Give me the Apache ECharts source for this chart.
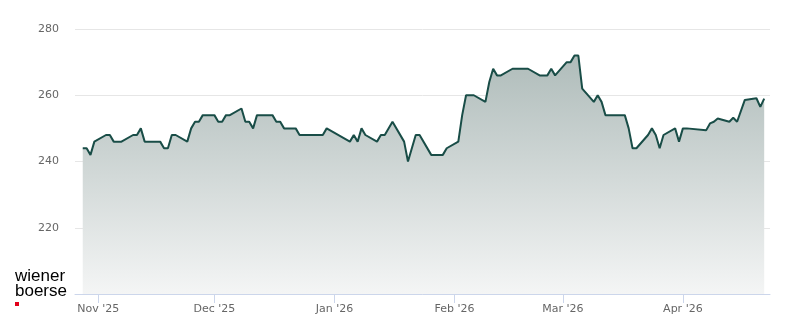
<!DOCTYPE html>
<html>
<head>
<meta charset="utf-8">
<script src="https://cdn.jsdelivr.net/npm/echarts@6/dist/echarts.min.js"></script>
<style>
html,body{margin:0;padding:0;background:#fff;}
#chart{width:800px;height:324px;}
</style>
</head>
<body>
<div id="chart"></div>
<script>
// Trading dates and closing prices
const dates = [
  '2025-10-28','2025-10-29','2025-10-30','2025-10-31',
  '2025-11-03','2025-11-04','2025-11-05','2025-11-06','2025-11-07',
  '2025-11-10','2025-11-11','2025-11-12','2025-11-13','2025-11-14',
  '2025-11-17','2025-11-18','2025-11-19','2025-11-20','2025-11-21',
  '2025-11-24','2025-11-25','2025-11-26','2025-11-27','2025-11-28',
  '2025-12-01','2025-12-02','2025-12-03','2025-12-04','2025-12-05',
  '2025-12-08','2025-12-09','2025-12-10','2025-12-11','2025-12-12',
  '2025-12-15','2025-12-16','2025-12-17','2025-12-18','2025-12-19',
  '2025-12-22','2025-12-23','2025-12-29','2025-12-30',
  '2026-01-05','2026-01-06','2026-01-07','2026-01-08','2026-01-09',
  '2026-01-12','2026-01-13','2026-01-14','2026-01-16',
  '2026-01-19','2026-01-20','2026-01-22','2026-01-23',
  '2026-01-26','2026-01-27','2026-01-28','2026-01-29','2026-01-30',
  '2026-02-02','2026-02-03','2026-02-04','2026-02-05','2026-02-06',
  '2026-02-09','2026-02-10','2026-02-11','2026-02-12','2026-02-13',
  '2026-02-16','2026-02-17','2026-02-18','2026-02-19','2026-02-20',
  '2026-02-23','2026-02-24','2026-02-25','2026-02-26','2026-02-27',
  '2026-03-02','2026-03-03','2026-03-04','2026-03-05','2026-03-06',
  '2026-03-09','2026-03-10','2026-03-11','2026-03-12','2026-03-13',
  '2026-03-16','2026-03-17','2026-03-18','2026-03-19','2026-03-20',
  '2026-03-23','2026-03-24','2026-03-25','2026-03-26','2026-03-27',
  '2026-03-30','2026-03-31','2026-04-01','2026-04-02',
  '2026-04-07','2026-04-08','2026-04-09','2026-04-10',
  '2026-04-13','2026-04-14','2026-04-15','2026-04-17',
  '2026-04-20','2026-04-21','2026-04-22'
];
const prices = [
  244,244,242,246,
  248,248,246,246,246,
  248,248,250,246,246,
  246,244,244,248,248,
  246,250,252,252,254,
  254,252,252,254,254,
  256,252,252,250,254,
  254,254,252,252,250,
  250,248,248,250,
  246,248,246,250,248,
  246,248,248,252,
  246,240,248,248,
  242,242,242,242,244,
  246,254,260,260,260,
  258,264,268,266,266,
  268,268,268,268,268,
  266,266,266,268,266,
  270,270,272,272,262,
  258,260,258,254,254,
  254,254,250,244,244,
  248,250,248,244,248,
  250,246,250,250,
  249.4,251.5,252,253,
  252,253.2,252,258.6,
  259.1,256.5,259
];
const yTicks = [200, 220, 240, 260, 280];
const monthTicks = ['2025-11-01','2025-12-01','2026-01-01','2026-02-01','2026-03-01','2026-04-01'];
const monthNames = ['Jan','Feb','Mar','Apr','May','Jun','Jul','Aug','Sep','Oct','Nov','Dec'];
const axisStart = '2025-10-26';
const axisEnd = '2026-04-23 12:00';

function ts(s){
  const p = s.split(/[- :]/).map(Number);
  return Date.UTC(p[0], p[1]-1, p[2], p[3]||0, p[4]||0);
}
const seriesData = dates.map((d,i)=>[ts(d), prices[i]]);
const tickVals = monthTicks.map(ts);

const chart = echarts.init(document.getElementById('chart'), null, {renderer:'canvas'});
chart.setOption({
  animation:false,
  backgroundColor:'#ffffff',
  textStyle:{fontFamily:'DejaVu Sans'},
  grid:{left:75, right:30, top:29, bottom:30, containLabel:false},
  xAxis:{
    type:'value',
    min:ts(axisStart), max:ts(axisEnd),
    axisLine:{show:true, lineStyle:{color:'#ccd6eb', width:1}},
    axisTick:{show:true, customValues:tickVals, length:9, lineStyle:{color:'#ccd6eb'}},
    axisLabel:{
      customValues:tickVals, color:'#666666', fontSize:11, margin:10,
      fontFamily:'DejaVu Sans',
      formatter:function(v){const d=new Date(v);return monthNames[d.getUTCMonth()]+" '"+String(d.getUTCFullYear()).slice(2);}
    },
    splitLine:{show:false}
  },
  yAxis:{
    type:'value',
    min:yTicks[0], max:yTicks[yTicks.length-1], interval:20,
    axisLine:{show:false}, axisTick:{show:false},
    axisLabel:{showMinLabel:false, color:'#666666', fontSize:11, margin:16, fontFamily:'DejaVu Sans'},
    splitLine:{show:true, lineStyle:{color:'#e6e6e6', width:1}}
  },
  series:[{
    type:'line',
    data:seriesData,
    showSymbol:false,
    smooth:false,
    lineStyle:{color:'#194d47', width:2},
    itemStyle:{color:'#194d47'},
    areaStyle:{
      origin:'start',
      opacity:1,
      color:new echarts.graphic.LinearGradient(0,0,0,1,[
        {offset:0, color:'#afbcba'},
        {offset:1, color:'#f4f5f5'}
      ])
    }
  }],
  graphic:[
    {type:'text', left:15, top:268, style:{text:'wiener', font:'17px "Liberation Sans"', fill:'#000000'}},
    {type:'text', left:15, top:283, style:{text:'boerse', font:'17px "Liberation Sans"', fill:'#000000'}},
    {type:'rect', left:15, top:302, shape:{width:4, height:4}, style:{fill:'#e2001a'}}
  ]
});
</script>
</body>
</html>
